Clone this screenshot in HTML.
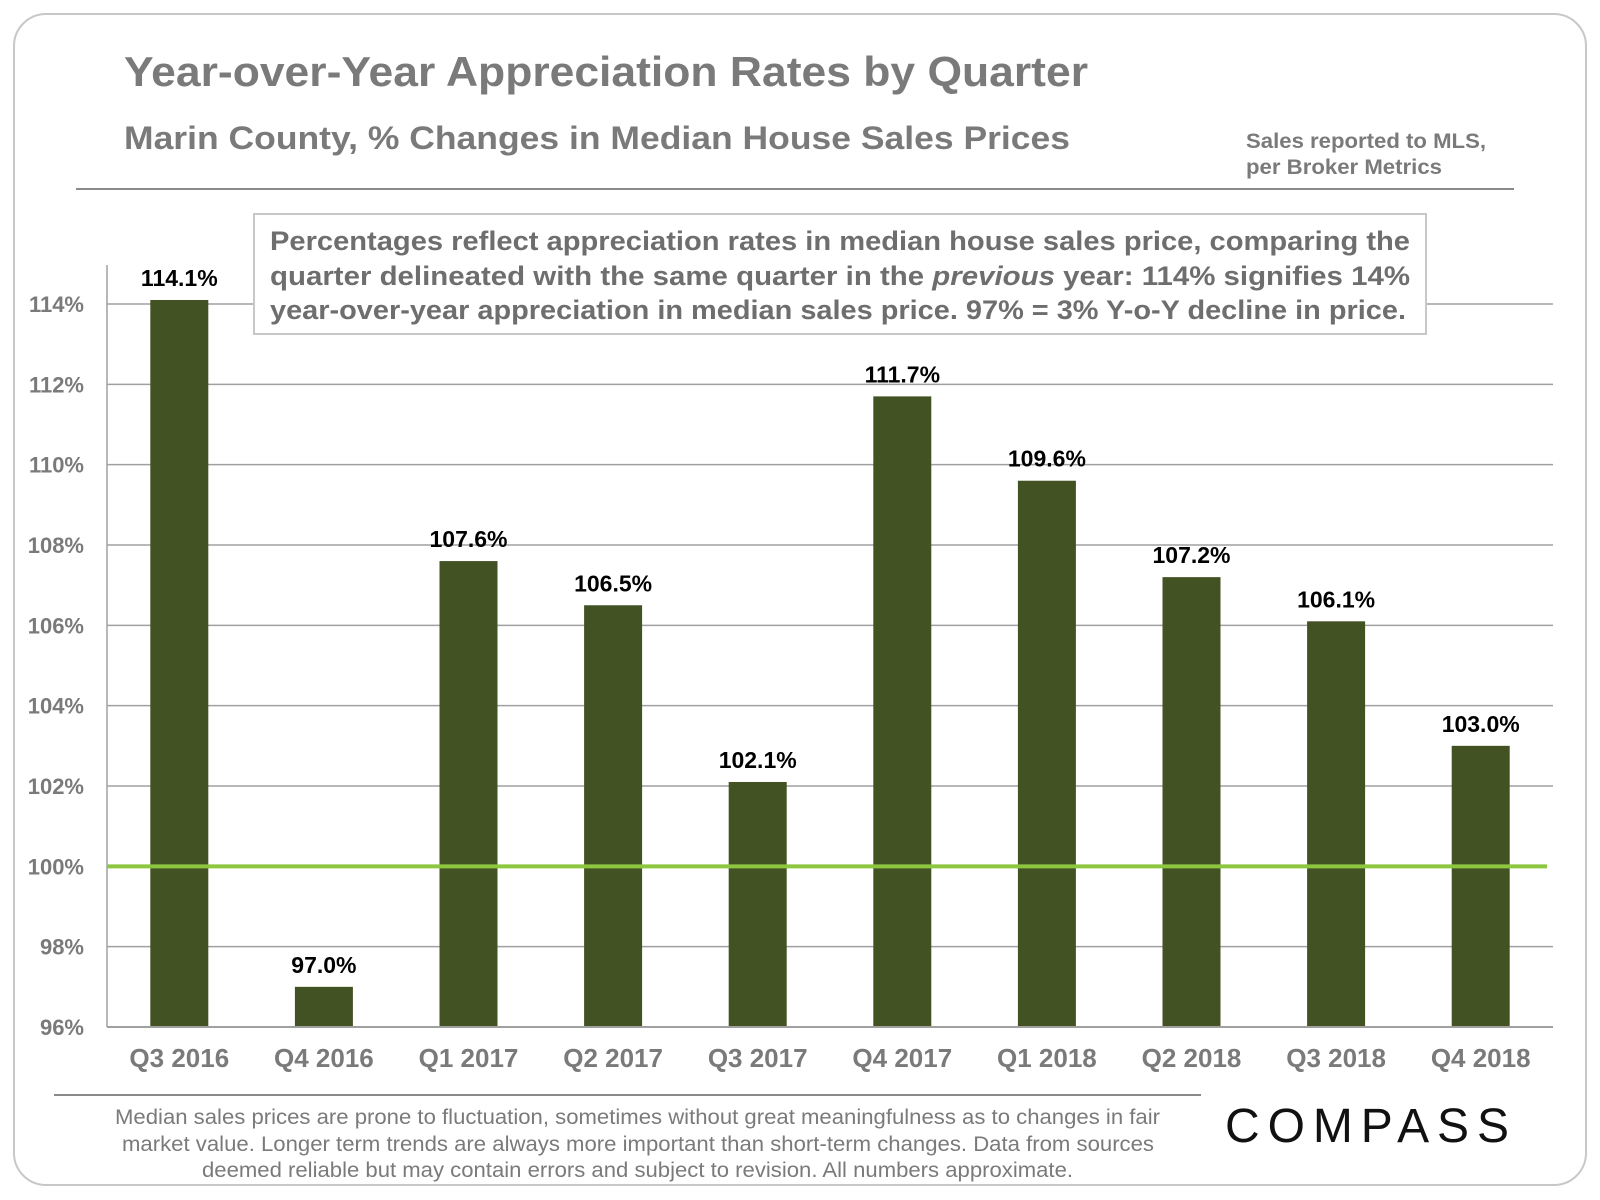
<!DOCTYPE html>
<html><head><meta charset="utf-8"><style>
html,body{margin:0;padding:0;background:#fff;}
svg{display:block;font-family:"Liberation Sans",Arial,sans-serif;}
</style></head><body>
<svg id="chart" width="1600" height="1200" viewBox="0 0 1600 1200">
<rect x="14" y="14" width="1572" height="1171" rx="32" fill="#fff" stroke="#c8c8c8" stroke-width="2"/>
<text x="124" y="86" font-size="42" font-weight="bold" fill="#7a7a7a" textLength="964" lengthAdjust="spacingAndGlyphs">Year-over-Year Appreciation Rates by Quarter</text>
<text x="124" y="149" font-size="32" font-weight="bold" fill="#7a7a7a" textLength="946" lengthAdjust="spacingAndGlyphs">Marin County, % Changes in Median House Sales Prices</text>
<text x="1246" y="148" font-size="21" font-weight="bold" fill="#7a7a7a" textLength="240" lengthAdjust="spacingAndGlyphs">Sales reported to MLS,</text>
<text x="1246" y="174" font-size="21" font-weight="bold" fill="#7a7a7a" textLength="196" lengthAdjust="spacingAndGlyphs">per Broker Metrics</text>
<line x1="76" y1="189" x2="1514" y2="189" stroke="#8a8a8a" stroke-width="2"/>
<g id="grid"></g>
<g id="bars"></g>
<g id="axes"></g>
<rect x="254" y="214" width="1172" height="120" fill="#fff" stroke="#c8c8c8" stroke-width="2"/>
<g font-size="27" font-weight="bold" fill="#6e6e6e">
<text x="270" y="250" textLength="1140" lengthAdjust="spacingAndGlyphs">Percentages reflect appreciation rates in median house sales price, comparing the</text>
<text x="270" y="285" textLength="1140" lengthAdjust="spacingAndGlyphs">quarter delineated with the same quarter in the <tspan font-style="italic">previous</tspan> year: 114% signifies 14%</text>
<text x="270" y="319" textLength="1136" lengthAdjust="spacingAndGlyphs">year-over-year appreciation in median sales price. 97% = 3% Y-o-Y decline in price.</text>
</g>
<line x1="54" y1="1095" x2="1201" y2="1095" stroke="#8a8a8a" stroke-width="2"/>
<g font-size="21" fill="#7a7a7a">
<text x="115" y="1124" textLength="1045" lengthAdjust="spacingAndGlyphs">Median sales prices are prone to fluctuation, sometimes without great meaningfulness as to changes in fair</text>
<text x="122" y="1151" textLength="1032" lengthAdjust="spacingAndGlyphs">market value. Longer term trends are always more important than short-term changes. Data from sources</text>
<text x="202" y="1177" textLength="871" lengthAdjust="spacingAndGlyphs">deemed reliable but may contain errors and subject to revision. All numbers approximate.</text>
</g>
<text x="1370" y="1142" font-size="48" fill="#111" text-anchor="middle" letter-spacing="6" textLength="290">COMPASS</text>
</svg>
<script>
const categories=["Q3 2016","Q4 2016","Q1 2017","Q2 2017","Q3 2017","Q4 2017","Q1 2018","Q2 2018","Q3 2018","Q4 2018"];
const values=[114.1,97.0,107.6,106.5,102.1,111.7,109.6,107.2,106.1,103.0];
const valueLabels=["114.1%","97.0%","107.6%","106.5%","102.1%","111.7%","109.6%","107.2%","106.1%","103.0%"];
const yTicks=[96,98,100,102,104,106,108,110,112,114];
const yTickLabels=["96%","98%","100%","102%","104%","106%","108%","110%","112%","114%"];
const NS="http://www.w3.org/2000/svg";
const X0=107,X1=1553,YMIN=96,YMAX=114,PY0=1027,PY1=304;
function y(v){return PY0-(v-YMIN)/(YMAX-YMIN)*(PY0-PY1);}
const step=(X1-X0)/categories.length;
function xc(i){return X0+step*(i+0.5);}
function mk(tag,attrs,parent){const e=document.createElementNS(NS,tag);for(const k in attrs)e.setAttribute(k,attrs[k]);parent.appendChild(e);return e;}
const grid=document.getElementById('grid'),bars=document.getElementById('bars'),axes=document.getElementById('axes');
yTicks.forEach((t,i)=>{
  if(t!==100){const l=mk('line',{x1:X0,x2:X1,y1:y(t),y2:y(t),stroke:'#a0a0a0','stroke-width':1.5},grid);
  
  }
  const tx=mk('text',{x:84,y:y(t)+8,'font-size':22,'font-weight':'bold',fill:'#7a7a7a','text-anchor':'end'},axes);
  tx.textContent=yTickLabels[i];
  
  
});
const ya=mk('line',{x1:X0,x2:X0,y1:265,y2:PY0,stroke:'#a0a0a0','stroke-width':1.5},axes);


const bw=58;
values.forEach((v,i)=>{
  const top=y(Math.max(v,YMIN));
  const r=mk('rect',{x:xc(i)-bw/2,y:top,width:bw,height:PY0-top,fill:'#435223'},bars);
  
  
  const lb=mk('text',{x:xc(i),y:top-14,'font-size':23,'font-weight':'bold',fill:'#000','text-anchor':'middle'},bars);
  lb.textContent=valueLabels[i];
  
  
  const xl=mk('text',{x:xc(i),y:1067,'font-size':26,'font-weight':'bold',fill:'#7a7a7a','text-anchor':'middle'},axes);
  xl.textContent=categories[i];
  
  
});
const xa=mk('line',{x1:X0,x2:X1,y1:PY0,y2:PY0,stroke:'#a0a0a0','stroke-width':2},axes);


const base=mk('line',{x1:X0,x2:1547,y1:y(100),y2:y(100),stroke:'#8dc63f','stroke-width':4},axes);


</script>
</body></html>
